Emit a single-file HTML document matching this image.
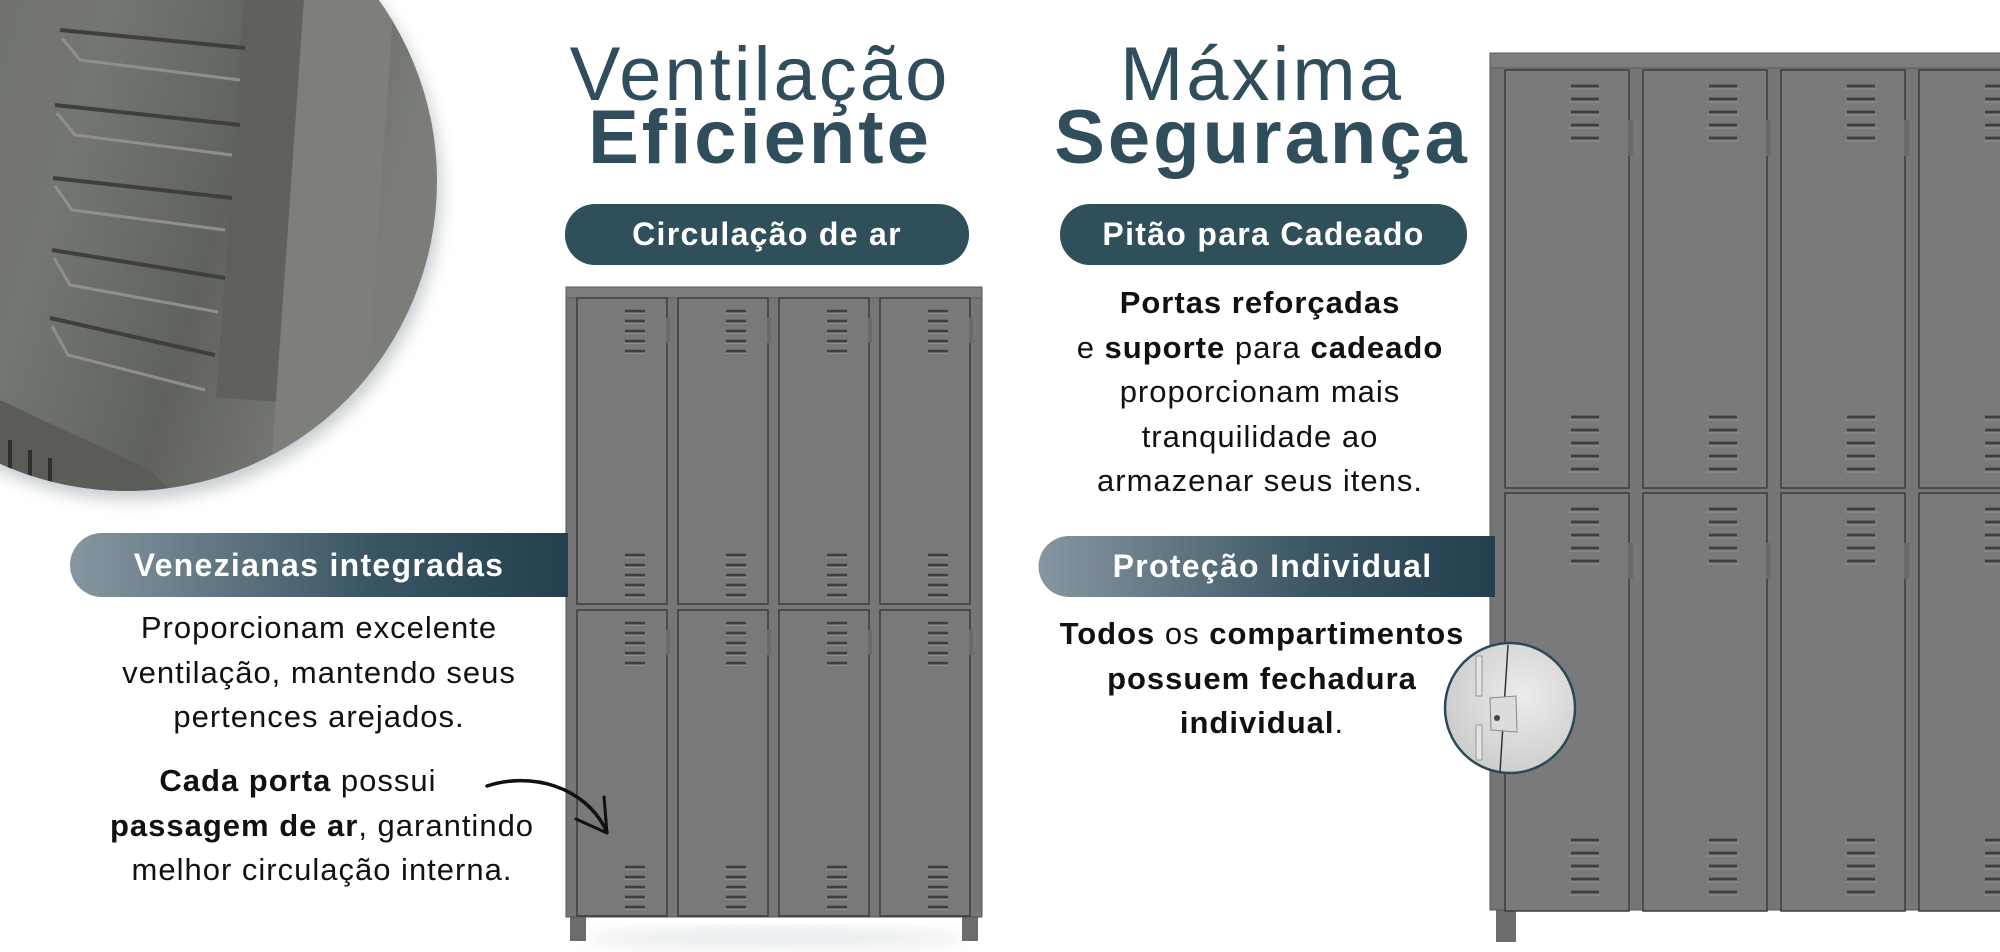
<!DOCTYPE html>
<html><head><meta charset="utf-8">
<style>
html,body{margin:0;padding:0;background:#fff;}
body{width:2000px;height:952px;position:relative;overflow:hidden;font-family:"Liberation Sans",sans-serif;}
.t{position:absolute;text-align:center;white-space:nowrap;}
.title{color:#2f4d5a;font-size:76px;line-height:75px;letter-spacing:3px;}
.p{color:#111;font-size:31px;line-height:44.5px;letter-spacing:1px;}
.p b{font-weight:bold;}
.pillt{color:#fff;font-weight:bold;font-size:32px;letter-spacing:1.3px;}
</style></head><body>
<svg width="2000" height="952" style="position:absolute;left:0;top:0">
<defs>
<linearGradient id="circ" x1="0" y1="0" x2="1" y2="0.3">
<stop offset="0" stop-color="#6a6d68"/><stop offset="0.5" stop-color="#737671"/><stop offset="0.75" stop-color="#5f625d"/><stop offset="1" stop-color="#7a7d78"/></linearGradient>
<linearGradient id="band" x1="0" y1="0" x2="1" y2="0">
<stop offset="0" stop-color="#8796a0"/><stop offset="0.6" stop-color="#3a5664"/><stop offset="1" stop-color="#243f4d"/></linearGradient>
<radialGradient id="sc" cx="0.6" cy="0.4" r="0.7"><stop offset="0" stop-color="#ececea"/><stop offset="1" stop-color="#c9cac7"/></radialGradient>
<filter id="sh" x="-20%" y="-20%" width="140%" height="140%"><feGaussianBlur stdDeviation="8"/></filter>
<clipPath id="cc"><circle cx="127" cy="181" r="310"/></clipPath>
<g id="vs"><g stroke="#3e3e3e" stroke-width="2.4"><line x1="2" y1="2" x2="22" y2="2"/><line x1="2" y1="12" x2="22" y2="12"/><line x1="2" y1="22" x2="22" y2="22"/><line x1="2" y1="32" x2="22" y2="32"/><line x1="2" y1="42" x2="22" y2="42"/></g><g stroke="#8c8c8c" stroke-width="1"><line x1="1" y1="4.5" x2="23" y2="4.5"/><line x1="1" y1="14.5" x2="23" y2="14.5"/><line x1="1" y1="24.5" x2="23" y2="24.5"/><line x1="1" y1="34.5" x2="23" y2="34.5"/><line x1="1" y1="44.5" x2="23" y2="44.5"/></g></g>
<g id="vl"><g stroke="#3e3e3e" stroke-width="2.8"><line x1="2" y1="2" x2="30" y2="2"/><line x1="2" y1="15" x2="30" y2="15"/><line x1="2" y1="28" x2="30" y2="28"/><line x1="2" y1="41" x2="30" y2="41"/><line x1="2" y1="54" x2="30" y2="54"/></g><g stroke="#8c8c8c" stroke-width="1.2"><line x1="0" y1="5" x2="32" y2="5"/><line x1="0" y1="18" x2="32" y2="18"/><line x1="0" y1="31" x2="32" y2="31"/><line x1="0" y1="44" x2="32" y2="44"/><line x1="0" y1="57" x2="32" y2="57"/></g></g>
<g id="ds"><rect x="0" y="0" width="90" height="306" fill="#797979" stroke="#3c3c3c" stroke-width="1.5"/><use href="#vs" x="46" y="11"/><use href="#vs" x="46" y="255"/><rect x="89" y="20" width="4" height="25" fill="#6a6a6a"/></g>
<g id="dl"><rect x="0" y="0" width="124" height="418" fill="#7a7a7a" stroke="#3c3c3c" stroke-width="1.5"/><use href="#vl" x="64" y="14"/><use href="#vl" x="64" y="345"/><rect x="123" y="50" width="5" height="36" fill="#6a6a6a"/></g>
</defs>
<circle cx="131" cy="190" r="310" fill="#9aa3a6" opacity="0.55" filter="url(#sh)"/>
<circle cx="127" cy="181" r="310" fill="url(#circ)"/>
<g clip-path="url(#cc)">
<rect x="230" y="-200" width="60" height="600" fill="#5e615c" transform="rotate(4 260 200)"/>
<rect x="290" y="-200" width="90" height="700" fill="#7c7f7a" transform="rotate(4 330 200)"/>
<g stroke="#3d403b" stroke-width="4" fill="none">
<path d="M60 30 L245 48"/><path d="M55 105 L240 125"/><path d="M53 178 L232 198"/><path d="M52 250 L225 278"/><path d="M50 318 L215 355"/>
</g>
<g stroke="#8d908b" stroke-width="3" fill="none">
<path d="M62 38 L80 60 L240 80"/><path d="M57 113 L75 135 L232 155"/><path d="M55 186 L72 210 L225 230"/><path d="M54 258 L70 285 L218 312"/><path d="M52 326 L68 355 L205 390"/>
</g>
<path d="M0 400 L150 470 L180 500 L0 500Z" fill="#595c57"/>
<g stroke="#2e302c" stroke-width="4"><line x1="10" y1="440" x2="10" y2="500"/><line x1="30" y1="450" x2="30" y2="500"/><line x1="50" y1="458" x2="50" y2="500"/></g>
</g>
<ellipse cx="775" cy="938" rx="190" ry="10" fill="#cfd6da" opacity="0.5" filter="url(#sh)"/>
<rect x="570" y="912" width="16" height="29" fill="#6c6c6c"/><rect x="962" y="912" width="16" height="29" fill="#6c6c6c"/>
<rect x="566" y="287" width="416" height="630" fill="#767676" stroke="#555" stroke-width="1"/>
<rect x="566" y="287" width="416" height="11" fill="#7d7d7d" stroke="#5a5a5a" stroke-width="1"/>
<use href="#ds" x="577" y="298"/><use href="#ds" x="678" y="298"/><use href="#ds" x="779" y="298"/><use href="#ds" x="880" y="298"/>
<use href="#ds" x="577" y="610"/><use href="#ds" x="678" y="610"/><use href="#ds" x="779" y="610"/><use href="#ds" x="880" y="610"/>
<rect x="1496" y="900" width="20" height="42" fill="#6c6c6c"/>
<rect x="1490" y="53" width="520" height="857" fill="#767676" stroke="#555" stroke-width="1"/>
<rect x="1490" y="53" width="520" height="15" fill="#7d7d7d" stroke="#5a5a5a" stroke-width="1"/>
<use href="#dl" x="1505" y="70"/><use href="#dl" x="1643" y="70"/><use href="#dl" x="1781" y="70"/><use href="#dl" x="1919" y="70"/>
<use href="#dl" x="1505" y="493"/><use href="#dl" x="1643" y="493"/><use href="#dl" x="1781" y="493"/><use href="#dl" x="1919" y="493"/>
<rect x="565" y="204" width="404" height="61" rx="30" fill="#2f4f5b"/>
<rect x="1060" y="204" width="407" height="61" rx="30" fill="#2f4f5b"/>
<path d="M102 533 H568 V597 H102 A32 32 0 0 1 102 533Z" fill="url(#band)"/>
<path d="M1069 536 H1495 V597 H1069 A30.5 30.5 0 0 1 1069 536Z" fill="url(#band)"/>
<path d="M487 786 C530 772 585 785 607 832" stroke="#111" stroke-width="3.5" fill="none" stroke-linecap="round"/>
<path d="M604 797 L607 833 L576 819" stroke="#111" stroke-width="3" fill="none" stroke-linecap="round" stroke-linejoin="round"/>
<circle cx="1510" cy="708" r="65" fill="url(#sc)" stroke="#2b4956" stroke-width="2.5"/>
<line x1="1508" y1="645" x2="1500" y2="772" stroke="#333" stroke-width="1.5"/>
<rect x="1476" y="656" width="6" height="40" fill="#e4e4e2" stroke="#999"/>
<rect x="1476" y="725" width="6" height="35" fill="#e4e4e2" stroke="#999"/>
<path d="M1490 698 L1516 696 L1517 732 L1491 730Z" fill="#dcdcda" stroke="#888"/>
<circle cx="1497" cy="718" r="3" fill="#444"/>
</svg>

<div class="t title" style="left:460px;width:600px;top:37px;">Ventilação</div>
<div class="t title" style="left:460px;width:600px;top:100px;font-weight:bold;">Eficiente</div>
<div class="t title" style="left:962px;width:600px;top:37px;">Máxima</div>
<div class="t title" style="left:962px;width:600px;top:100px;font-weight:bold;">Segurança</div>

<div class="t pillt" style="left:565px;width:404px;top:204px;line-height:61px;">Circulação de ar</div>
<div class="t pillt" style="left:1060px;width:407px;top:204px;line-height:61px;">Pitão para Cadeado</div>
<div class="t pillt" style="left:70px;width:498px;top:533px;line-height:64px;">Venezianas integradas</div>
<div class="t pillt" style="left:1040px;width:465px;top:536px;line-height:61px;">Proteção Individual</div>

<div class="t p" style="left:69px;width:500px;top:606px;">Proporcionam excelente<br>ventilação, mantendo seus<br>pertences arejados.</div>
<div class="t p" style="left:72px;width:500px;top:759px;"><b>Cada porta</b> possui&nbsp;&nbsp;&nbsp;&nbsp;&nbsp;<br><b>passagem de ar</b>, garantindo<br>melhor circulação interna.</div>
<div class="t p" style="left:1010px;width:500px;top:281px;"><b>Portas reforçadas</b><br>e <b>suporte</b> para <b>cadeado</b><br>proporcionam mais<br>tranquilidade ao<br>armazenar seus itens.</div>
<div class="t p" style="left:1012px;width:500px;top:612px;"><b>Todos</b> os <b>compartimentos</b><br><b>possuem fechadura</b><br><b>individual</b>.</div>
</body></html>
